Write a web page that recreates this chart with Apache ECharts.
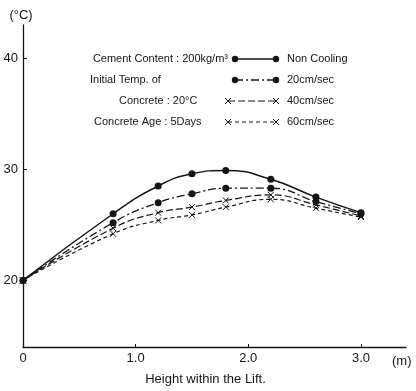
<!DOCTYPE html>
<html>
<head>
<meta charset="utf-8">
<script src="https://cdn.jsdelivr.net/npm/echarts@6/dist/echarts.min.js"></script>
<style>
  html, body { margin: 0; padding: 0; background: #fff; }
  #chart { width: 416px; height: 391px; }
</style>
</head>
<body>
<div id="chart"></div>
<script>
// height within the lift (m)
let heights = [0, 0.8, 1.2, 1.5, 1.8, 2.2, 2.6, 3.0];
// concrete temperature (°C)
let nonCooling = [20.0, 26.0, 28.5, 29.6, 29.9, 29.1, 27.5, 26.1];
let cool20 = [20.0, 25.2, 27.0, 27.8, 28.3, 28.3, 27.1, 26.0];
let cool40 = [20.0, 24.7, 26.1, 26.6, 27.2, 27.7, 26.8, 25.8];
let cool60 = [20.0, 24.2, 25.4, 25.9, 26.6, 27.3, 26.5, 25.7];

let seriesNames = ['Non Cooling', '20cm/sec', '40cm/sec', '60cm/sec'];
let noteLines = ['Cement Content : 200kg/m³', 'Initial Temp. of', 'Concrete : 20°C', 'Concrete Age : 5Days'];
let xTicks = [0, 1, 2, 3];
let yTicks = [20, 30, 40];

let ink = '#151515';
let cross = 'path://M0,0L10,10M10,0L0,10';
let styles = [
    {symbol: 'circle', dash: 'solid', width: 1.5},
    {symbol: 'circle', dash: [8, 3, 2, 3], width: 1.3},
    {symbol: cross, dash: [7, 3], width: 1.2},
    {symbol: cross, dash: [4, 3], width: 1.2}
];
let allValues = [nonCooling, cool20, cool40, cool60];

function pairs(vals){
    return heights.map((h, i) => [h, vals[i]]);
}

let series = allValues.map((vals, i) => {
    let st = styles[i];
    let isCross = st.symbol !== 'circle';
    return {
        name: seriesNames[i],
        type: 'line',
        data: pairs(vals),
        smooth: 0.5,
        symbol: st.symbol,
        symbolSize: isCross ? 6 : 7,
        showSymbol: true,
        lineStyle: {color: ink, width: st.width, type: st.dash},
        itemStyle: isCross
            ? {color: 'transparent', borderColor: ink, borderWidth: 1}
            : {color: ink, borderColor: ink, borderWidth: 0},
        emphasis: {disabled: true},
        z: 5 - i
    };
});

// notes + legend samples drawn on the canvas
let graphics = [];
let rowY = [59, 80, 101, 122];
let noteX = [228, 90, 119, 94];
let noteAlign = ['right', 'left', 'left', 'left'];
let smallFont = '11px "Liberation Sans", Arial, sans-serif';
noteLines.forEach((t, i) => {
    graphics.push({
        type: 'text', x: noteX[i], y: rowY[i],
        style: {text: t, fill: ink, font: smallFont, align: noteAlign[i], verticalAlign: 'middle'}
    });
});
seriesNames.forEach((name, i) => {
    let y = rowY[i];
    let st = styles[i];
    let x1 = i < 2 ? 235 : 228, x2 = 276;
    graphics.push({
        type: 'line', shape: {x1: x1, y1: y, x2: x2, y2: y},
        style: {stroke: ink, lineWidth: st.width, lineDash: st.dash === 'solid' ? null : st.dash}
    });
    [x1, x2].forEach(px => {
        if(st.symbol === 'circle'){
            graphics.push({type: 'circle', shape: {cx: px, cy: y, r: 3.2}, style: {fill: ink}});
        }else{
            graphics.push({type: 'polyline', shape: {points: [[px - 3, y - 3], [px + 3, y + 3]]}, style: {stroke: ink, lineWidth: 1}});
            graphics.push({type: 'polyline', shape: {points: [[px - 3, y + 3], [px + 3, y - 3]]}, style: {stroke: ink, lineWidth: 1}});
        }
    });
    graphics.push({
        type: 'text', x: 287, y: y,
        style: {text: name, fill: ink, font: smallFont, verticalAlign: 'middle'}
    });
});
graphics.push({
    type: 'text', x: 392, y: 361,
    style: {text: '(m)', fill: ink, font: '13px "Liberation Sans", Arial, sans-serif', verticalAlign: 'middle'}
});

let chart = echarts.init(document.getElementById('chart'));
chart.setOption({
    backgroundColor: '#fff',
    animation: false,
    grid: {left: 23, right: 10, top: 25, bottom: 41, containLabel: false},
    xAxis: {
        type: 'value', min: 0, max: 3.4,
        name: 'Height within the Lift.', nameLocation: 'middle', nameGap: 26,
        nameTextStyle: {color: ink, fontSize: 13, fontFamily: 'Liberation Sans', padding: [0, 0, 0, -18]},
        axisLine: {lineStyle: {color: ink, width: 1.3}},
        axisTick: {inside: true, length: 3, customValues: xTicks, lineStyle: {color: ink}},
        axisLabel: {customValues: xTicks, color: ink, fontSize: 13, fontFamily: 'Liberation Sans', margin: 5,
                    formatter: v => v === 0 ? '0' : v.toFixed(1)},
        splitLine: {show: false}
    },
    yAxis: {
        type: 'value', min: 14, max: 43,
        name: '(°C)', nameLocation: 'end', nameGap: 3,
        nameTextStyle: {color: ink, fontSize: 13, fontFamily: 'Liberation Sans', align: 'center', padding: [0, 0, 0, -4]},
        axisLine: {show: true, lineStyle: {color: ink, width: 1.3}},
        axisTick: {show: true, inside: true, length: 4, customValues: yTicks, lineStyle: {color: ink}},
        axisLabel: {customValues: yTicks, color: ink, fontSize: 13, fontFamily: 'Liberation Sans', margin: 5},
        splitLine: {show: false}
    },
    graphic: graphics,
    series: series
});
</script>
</body>
</html>
